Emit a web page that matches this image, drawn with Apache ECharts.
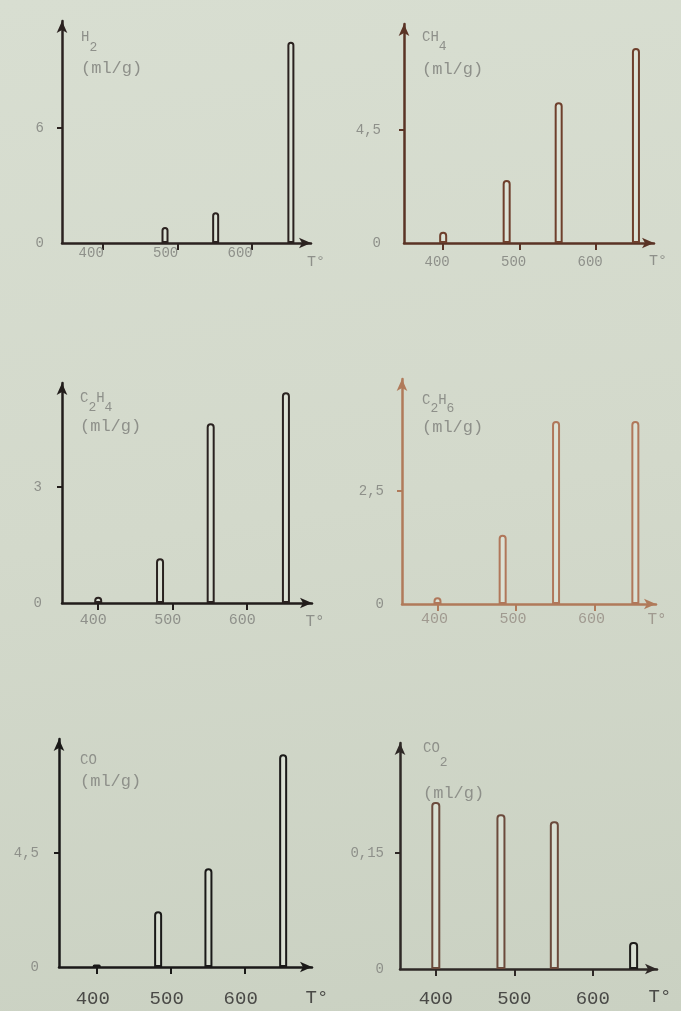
<!DOCTYPE html>
<html><head><meta charset="utf-8">
<script src="https://cdn.jsdelivr.net/npm/echarts@6/dist/echarts.min.js"></script>
<style>
html,body{margin:0;padding:0;width:681px;height:1011px;overflow:hidden;
background:linear-gradient(172deg,#d8ded1 0%,#d3d9cb 50%,#cad1c2 100%);}
#c{width:681px;height:1011px;}
</style>
</head><body><div id="c"></div>
<script>
// ---- data ----
const temps = [400, 483, 551, 652];          // T° of the four runs
const h2   = [null, 0.83, 1.6, 10.5];         // ml/g
const ch4  = [0.45, 2.51, 5.6, 7.76];
const c2h4 = [0.16, 1.16, 4.65, 5.45];
const c2h6 = [0.15, 1.53, 4.05, 4.05];
const co   = [0.1, 2.2, 3.9, 8.4];
const co2  = [0.216, 0.2, 0.191, 0.035];
const xTickValues = [400, 500, 600];
const h2Ticks   = [0, 6];
const ch4Ticks  = [0, 4.5];
const c2h4Ticks = [0, 3];
const c2h6Ticks = [0, 2.5];
const coTicks   = [0, 4.5];
const co2Ticks  = [0, 0.15];
const names = ['{m|H}{s|2}', '{m|CH}{s|4}', '{m|C}{s|2}{m|H}{s|4}', '{m|C}{s|2}{m|H}{s|6}', '{m|CO}', '{m|CO}{s|2}'];
const unitLabel = '(ml/g)';
const xName = 'T°';

const seriesValues = [h2, ch4, c2h4, c2h6, co, co2];
const yTickSets = [h2Ticks, ch4Ticks, c2h4Ticks, c2h6Ticks, coTicks, co2Ticks];

// ---- layout / style per panel ----
const FONT = 'Liberation Mono';
const GRAY = '#8e908a';
const DARK = '#4a4a47';
const layouts = [
  {left:62, top:21, width:249, height:222, xMin:344.7, xMax:679, yMax:11.58, ylMargin:18, xlMargin:3, xlOff:12, xlSize:14, xlColor:GRAY, tGap:5, tY:19, tSize:15, nameGap:-9, nameX:19, subShift:10, unitC:38, axis:'#2b2220', bar:'#2b2220', barWidth:7},
  {left:404, top:24, width:250, height:219, xMin:348.8, xMax:675.6, yMax:8.72, ylMargin:23, xlMargin:12, xlOff:6, xlSize:14, xlColor:GRAY, tGap:4, tY:18, tSize:15, nameGap:-6, nameX:18, subShift:9, unitC:39, axis:'#5a3325', bar:'#6e3f2c', barWidth:8},
  {left:62, top:383, width:250, height:220, xMin:351.4, xMax:687, yMax:5.69, ylMargin:20, xlMargin:10, xlOff:5, xlSize:15, xlColor:GRAY, tGap:3, tY:19, tSize:16, nameGap:-8, nameX:18, subShift:9, unitC:35, axis:'#221d1b', bar:'#2a2220', barWidth:8},
  {left:402, top:379, width:254, height:225, xMin:354.8, xMax:678.3, yMax:4.98, ylMargin:18, xlMargin:8, xlOff:3, xlSize:15, xlColor:'#a09a90', tGap:1, tY:16, tSize:16, nameGap:-14, nameX:20, subShift:8, unitC:34, axis:'#b07a5a', bar:'#b0775a', barWidth:8},
  {left:59, top:739, width:253, height:228, xMin:349, xMax:691, yMax:9.0, ylMargin:20, xlMargin:22, xlOff:4, xlSize:19, xlColor:DARK, tGap:5, tY:31, tSize:19, nameGap:-14, nameX:21, subShift:0, unitC:28, axis:'#1a1918', bar:'#1a1918', barWidth:8},
  {left:400, top:743, width:257, height:226, xMin:354.4, xMax:681.8, yMax:0.2923, ylMargin:16, xlMargin:20, xlOff:0, xlSize:19, xlColor:DARK, tGap:3, tY:28, tSize:19, nameGap:2, nameX:23, subShift:14, unitC:52, axis:'#2e2826', bar:'#6b4a3c', lastBar:'#1e1c1a', barWidth:9}
];

const grids = [], xAxes = [], yAxes = [], series = [];
layouts.forEach((L, i) => {
  grids.push({left:L.left, top:L.top, width:L.width, height:L.height, containLabel:false});
  xAxes.push({
    type:'value', gridIndex:i, min:L.xMin, max:L.xMax, position:'bottom',
    splitLine:{show:false},
    axisLine:{show:true, onZero:false, symbol:['none','arrow'], symbolSize:[8,12],
      lineStyle:{color:L.axis, width:2.5}},
    axisTick:{show:true, customValues:xTickValues, length:7, inside:false,
      lineStyle:{color:L.axis, width:2}},
    axisLabel:{show:true, customValues:xTickValues, margin:L.xlMargin, fontFamily:FONT,
      fontSize:L.xlSize, color:L.xlColor, padding:[0, 2*L.xlOff, 0, 0]},
    name:xName, nameLocation:'end', nameGap:L.tGap, nameMoveOverlap:false,
    nameTextStyle:{fontFamily:FONT, fontSize:L.tSize, color:L.xlColor, align:'center',
      verticalAlign:'top', lineHeight:L.tSize, padding:[Math.max(0, L.tY - L.tSize/2), 0, 0, 0]}
  });
  const mid = yTickSets[i][1];
  const hasSub = L.subShift > 0;
  const line1H = hasSub ? Math.round(14 + L.subShift) : 14;
  const unitLH = Math.max(2, 2 * (L.unitC - line1H));
  yAxes.push({
    type:'value', gridIndex:i, min:0, max:L.yMax,
    splitLine:{show:false},
    axisLine:{show:true, onZero:false, symbol:['none','arrow'], symbolSize:[8,12],
      lineStyle:{color:L.axis, width:2.5}},
    axisTick:{show:true, customValues:[mid], length:5, lineStyle:{color:L.axis, width:2}},
    axisLabel:{show:true, customValues:yTickSets[i], margin:L.ylMargin, fontFamily:FONT,
      fontSize:14, color:GRAY, formatter: v => String(v).replace('.', ',')},
    name: names[i] + '\n{u|' + unitLabel + '}',
    nameLocation:'end', nameGap:L.nameGap, nameMoveOverlap:false,
    nameTextStyle:{
      fontFamily:FONT, color:GRAY, align:'left', verticalAlign:'top',
      padding:[0,0,0,L.nameX],
      rich:{
        m:{fontFamily:FONT, fontSize:14, lineHeight:14, color:GRAY, verticalAlign:'top'},
        s:{fontFamily:FONT, fontSize:13, lineHeight:line1H, color:GRAY, verticalAlign:'bottom'},
        u:{fontFamily:FONT, fontSize:17, lineHeight:unitLH, color:GRAY, verticalAlign:'middle'}
      }
    }
  });
  const vals = seriesValues[i];
  series.push({
    type:'bar', xAxisIndex:i, yAxisIndex:i, barWidth:L.barWidth, silent:true,
    itemStyle:{color:'rgba(228,233,222,0.55)', borderColor:L.bar, borderWidth:2, borderRadius:[3,3,0,0]},
    data: temps.map((t, j) => {
      const item = {value:[t, vals[j]]};
      if (j === temps.length - 1 && L.lastBar) item.itemStyle = {borderColor:L.lastBar};
      return item;
    })
  });
});

const chart = echarts.init(document.getElementById('c'), null, {renderer:'canvas'});
chart.setOption({
  backgroundColor:'transparent',
  animation:false,
  grid:grids, xAxis:xAxes, yAxis:yAxes, series:series
});
</script>
</body></html>
